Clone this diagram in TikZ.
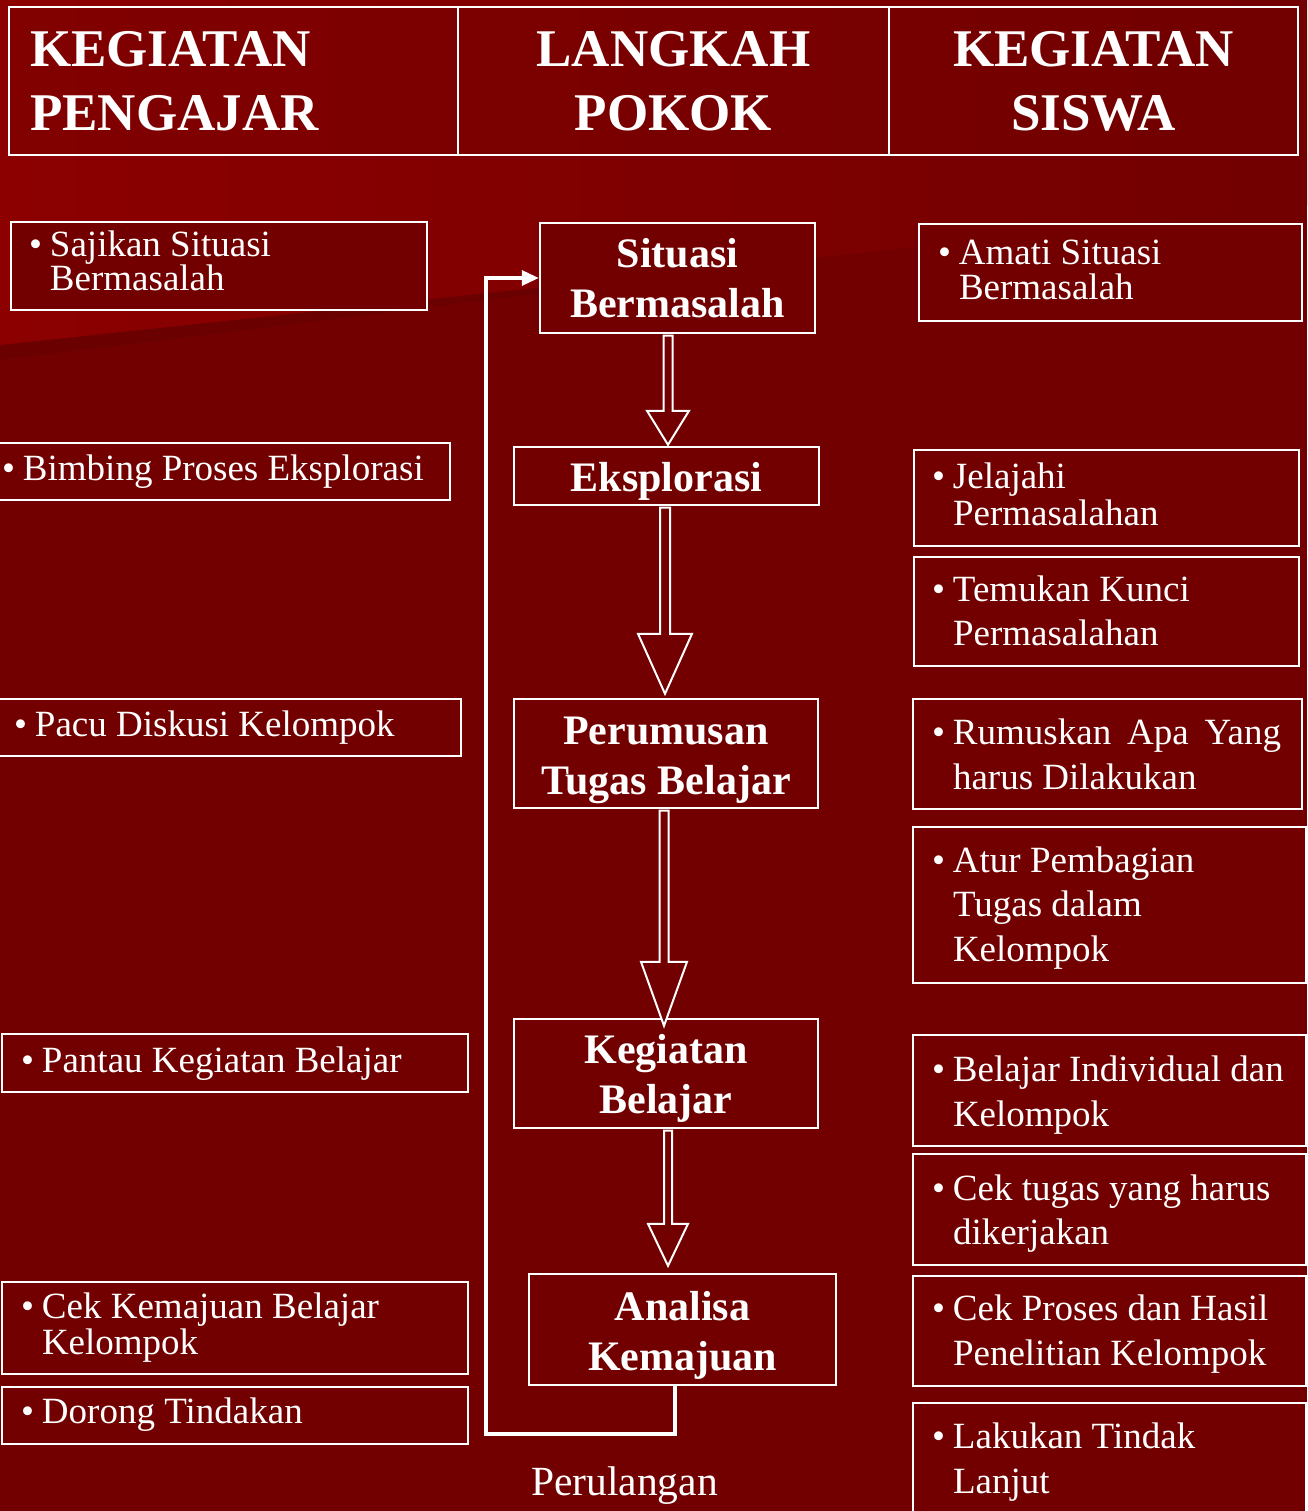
\documentclass[tikz,border=0pt]{standalone}
\usepackage{fontspec}
\setmainfont{Liberation Serif}
\usetikzlibrary{calc,arrows.meta}
\definecolor{bgdark}{RGB}{114,0,0}
\definecolor{bglight}{RGB}{140,0,0}
\newcommand\Ln[1]{\hbox{#1}}
\newcommand\Cv[2]{\hbox to #1{\hfil#2\hfil}}
\newcommand\itm[2]{\makebox[16pt][l]{\kern-5pt\textbullet}\makebox[#1][l]{\vtop{#2}}}
\newcommand\blockarr[7]{%
  \coordinate (bx) at (#3,0);
  \coordinate (ba) at (#1.south -| bx);
  \coordinate (bb) at (#2.north -| bx);
  \draw[barrow] ($(ba)+(-#4,1.5)$) -- ($(bb)+(-#4,#7-#6)$) -- ($(bb)+(-#5,#7-#6)$) -- ($(bb)+(0,#7)$) -- ($(bb)+(#5,#7-#6)$) -- ($(bb)+(#4,#7-#6)$) -- ($(ba)+(#4,1.5)$) -- cycle;}
\tikzset{
  box/.style={draw=white, line width=2.4pt, fill=bgdark, rectangle, inner sep=0pt, text=white},
  item/.style={box, font=\fontsize{37}{#1}\selectfont},
  stepbox/.style={box, font=\bfseries\fontsize{42}{50}\selectfont},
  head/.style={draw=white, line width=2.4pt, fill=bgdark, fill opacity=0.4, text opacity=1, rectangle, inner sep=0pt, text=white, font=\bfseries\fontsize{53}{64}\selectfont},
  tb/.style={text height=30pt, text depth=#1pt},
  barrow/.style={draw=white, line width=2pt, fill=bgdark, line join=miter},
  loopline/.style={draw=white, line width=3.3pt, line join=miter},
}
\begin{document}
\begin{tikzpicture}[x=1pt, y=-1pt]
\useasboundingbox (0,0) rectangle (1307,1511);
\clip (0,0) rectangle (1307,1511);
% background
\fill[bgdark] (0,0) rectangle (1307,1511);
\shade[left color=bglight, right color=bgdark] (0,0) -- (1307,0) -- (1307,205) -- (0,345) -- cycle;
\fill[black, opacity=0.06] (0,345) -- (700,271) -- (700,274) -- (0,360) -- cycle;

% header  (text depth = 2*(cy - first baseline) + 30)
\node[head, tb=58, minimum width=449pt, minimum height=148pt] (h1) at (233.5,81) {\makebox[407pt][l]{\vtop{\Ln{KEGIATAN}\Ln{PENGAJAR}}}};
\node[head, tb=58, minimum width=431pt, minimum height=148pt] (h2) at (673.5,81) {\vtop{\Cv{400pt}{LANGKAH}\Cv{400pt}{POKOK}}};
\node[head, tb=58, minimum width=409pt, minimum height=148pt] (h3) at (1093.5,81) {\vtop{\Cv{380pt}{KEGIATAN}\Cv{380pt}{SISWA}}};

% left column
\node[item=34, tb=48, minimum width=416pt, minimum height=88pt] (l1) at (219,266) {\itm{354pt}{\Ln{Sajikan Situasi}\Ln{Bermasalah}}};
\node[item=37, tb=13, minimum width=460pt, minimum height=57pt] (l2) at (220,471.5) {\itm{410pt}{\Ln{Bimbing Proses Eksplorasi}}};
\node[item=37, tb=13, minimum width=471pt, minimum height=57pt] (l3) at (225.5,727.5) {\itm{397pt}{\Ln{Pacu Diskusi Kelompok}}};
\node[item=37, tb=12, minimum width=466pt, minimum height=58pt] (l4) at (235,1063) {\itm{402pt}{\Ln{Pantau Kegiatan Belajar}}};
\node[item=36, tb=50, minimum width=466pt, minimum height=92pt] (l5) at (235,1328) {\itm{402pt}{\Ln{Cek Kemajuan Belajar}\Ln{Kelompok}}};
\node[item=37, tb=15, minimum width=466pt, minimum height=57pt] (l6) at (235,1415.5) {\itm{402pt}{\Ln{Dorong Tindakan}}};

% middle column
\node[stepbox, tb=50, minimum width=275pt, minimum height=110pt] (m1) at (677.5,278) {\vtop{\Cv{260pt}{Situasi}\Cv{260pt}{Bermasalah}}};
\node[stepbox, tb=0, minimum width=305pt, minimum height=58pt] (m2) at (666.5,476) {\Cv{280pt}{Eksplorasi}};
\node[stepbox, tb=49, minimum width=304pt, minimum height=109pt] (m3) at (666,753.5) {\vtop{\Cv{280pt}{Perumusan}\Cv{280pt}{Tugas Belajar}}};
\node[stepbox, tb=51, minimum width=304pt, minimum height=109pt] (m4) at (666,1073.5) {\vtop{\Cv{280pt}{Kegiatan}\Cv{280pt}{Belajar}}};
\node[stepbox, tb=49, minimum width=307pt, minimum height=111pt] (m5) at (682.5,1329.5) {\vtop{\Cv{280pt}{Analisa}\Cv{280pt}{Kemajuan}}};

% right column
\node[item=35, tb=45, minimum width=383pt, minimum height=97pt] (r1) at (1110.5,272.5) {\itm{319pt}{\Ln{Amati Situasi}\Ln{Bermasalah}}};
\node[item=37, tb=50, minimum width=385pt, minimum height=96pt] (r2) at (1106.5,498) {\itm{323pt}{\Ln{Jelajahi}\Ln{Permasalahan}}};
\node[item=44, tb=51, minimum width=385pt, minimum height=109pt] (r3) at (1106.5,611.5) {\itm{323pt}{\Ln{Temukan Kunci}\Ln{Permasalahan}}};
\node[item=45, tb=50, minimum width=389pt, minimum height=110pt] (r4) at (1107.5,754) {\itm{325pt}{\Ln{\makebox[328pt][s]{Rumuskan Apa Yang}}\Ln{harus Dilakukan}}};
\node[item=44.5, tb=96, minimum width=393pt, minimum height=156pt] (r5) at (1109.5,905) {\itm{329pt}{\Ln{Atur Pembagian}\Ln{Tugas dalam}\Ln{Kelompok}}};
\node[item=45, tb=49, minimum width=393pt, minimum height=111pt] (r6) at (1109.5,1090.5) {\itm{329pt}{\Ln{Belajar Individual dan}\Ln{Kelompok}}};
\node[item=44, tb=49, minimum width=393pt, minimum height=111pt] (r7) at (1109.5,1209.5) {\itm{329pt}{\Ln{Cek tugas yang harus}\Ln{dikerjakan}}};
\node[item=45, tb=52, minimum width=393pt, minimum height=110pt] (r8) at (1109.5,1331) {\itm{329pt}{\Ln{Cek Proses dan Hasil}\Ln{Penelitian Kelompok}}};
\node[item=45, tb=51, minimum width=393pt, minimum height=111pt] (r9) at (1109.5,1458.5) {\itm{329pt}{\Ln{Lakukan Tindak}\Ln{Lanjut}}};

% block arrows
\blockarr{m1}{m2}{668}{4.5}{21}{34}{-1}
\blockarr{m2}{m3}{665}{5}{27}{60}{-4}
\blockarr{m3}{m4}{664}{4.5}{23}{64}{8}
\blockarr{m4}{m5}{668}{4}{20}{42}{-7}

% loop
\coordinate (lb) at (675,1434);
\coordinate (lx) at (486,1434);
\draw[loopline, -{Triangle[length=17pt,width=15pt]}] (m5.south -| lb) -- (lb) -- (lx) -- (lx |- m1.west) -- (m1.west);
\node[text=white, font=\fontsize{41.5}{48}\selectfont, anchor=base, inner sep=0pt] (perul) at (624.5,1495) {Perulangan};
\end{tikzpicture}
\end{document}
